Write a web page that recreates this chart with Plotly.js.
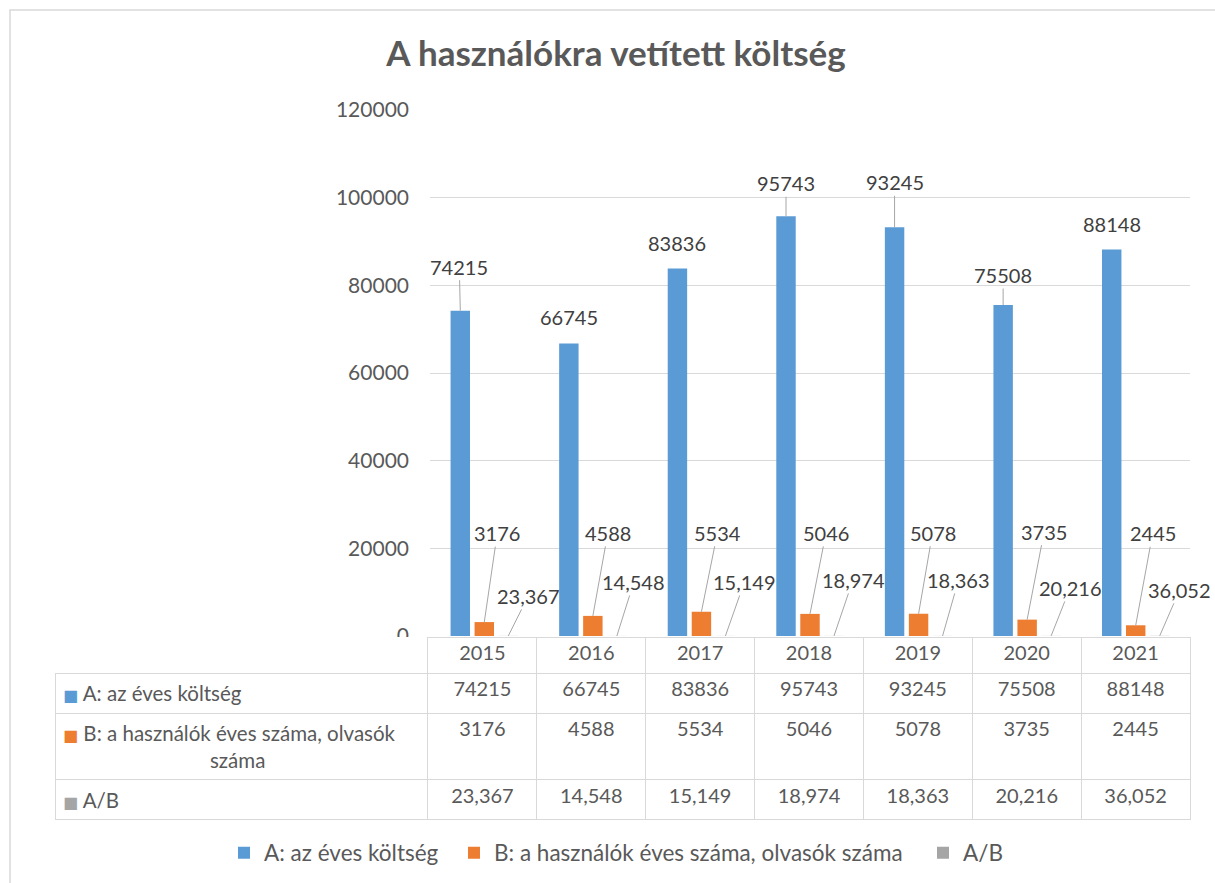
<!DOCTYPE html>
<html><head><meta charset="utf-8">
<script src="https://cdn.plot.ly/plotly-3.0.1.min.js"></script>
<style>html,body{margin:0;padding:0;background:#fff}#chart{width:1215px;height:883px}</style>
</head><body><div id="chart"></div>
<script>
// ---- data ----
const years = ['2015','2016','2017','2018','2019','2020','2021'];
const seriesNames = ['A: az éves költség','B: a használók éves száma, olvasók száma','A/B'];
const costA = [74215,66745,83836,95743,93245,75508,88148];
const usersB = [3176,4588,5534,5046,5078,3735,2445];
const ratioAB = [23.367,14.548,15.149,18.974,18.363,20.216,36.052];
const chartTitle = 'A használókra vetített költség';

// ---- style ----
const colors = ['#5B9BD5','#ED7D31','#A5A5A5'];
const FONT = 'Lato, Open Sans, sans-serif';
const W = 1215, H = 883;
const px = x => x / W, py = y => 1 - y / H;
const fmtRatio = v => v.toFixed(3).replace('.', ',');
const fmts = [v => String(v), v => String(v), fmtRatio];
const seriesVals = [costA, usersB, ratioAB];

// label offsets [ax, ay, leader]
const labelStyle = [
  {shift:-24, off:[[-1,-44,1],[0,-26,0],[0,-26,0],[0,-33,1],[0,-45,1],[0,-30,1],[0,-26,0]]},
  {shift:0,   off:[[13,-89,1],[15,-83,1],[16,-79,1],[16,-81,1],[14,-81,1],[17,-88,1],[17,-92,1]]},
  {shift:24,  off:[[20,-40,1],[17,-54,1],[19,-54,1],[19,-56,1],[16,-56,1],[19,-48,1],[20,-46,1]]}
];
const legendLeft = [224, 454, 923];
const legendIds = ['legend', 'legend2', 'legend3'];

const traces = seriesVals.map((vals, i) => ({
  type:'bar', x:years, y:vals, name:seriesNames[i], legend:legendIds[i],
  marker:{color:colors[i], line:{width:0}}, hoverinfo:'skip'
}));

const annotations = [];
seriesVals.forEach((vals, i) => {
  vals.forEach((v, j) => {
    const o = labelStyle[i].off[j];
    annotations.push({
      x: j, y: v, xref:'x', yref:'y', text: fmts[i](v),
      xshift: labelStyle[i].shift, showarrow:true, arrowhead:0, arrowwidth:1,
      arrowcolor: o[2] ? '#A6A6A6' : 'rgba(0,0,0,0)', standoff:0,
      ax:o[0], ay:o[1], font:{family:FONT, size:20, color:'#404040'}
    });
  });
});

// row labels of the data table (series names, the long one wrapped like the original)
const NB = '\u00A0';
const wrapLabel = n => {
  if (n.length < 30) return n + '<br>';           // trailing <br> keeps the table from re-wrapping markup
  const k = n.lastIndexOf(' ');
  return n.slice(0, k) + '<br>' + NB.repeat(28) + n.slice(k + 1);
};
const keySpan = c => `<span style="color:${c};font-family:DejaVu Sans;font-size:16px">■</span>`;
const labelCells = seriesNames.map((n, i) => keySpan(colors[i]) + NB + wrapLabel(n));
const colValues = [labelCells].concat(years.map((y, j) => [String(costA[j]), String(usersB[j]), fmtRatio(ratioAB[j])]));
const grid = '#D9D9D9';
const table = {
  type:'table',
  domain:{x:[px(55), px(1190)], y:[py(830), py(637)]},
  columnwidth:[373].concat(years.map(() => 108.86)),
  header:{
    values:[''].concat(years), height:36, align:'center',
    fill:{color:'#FFFFFF'},
    line:{color:['rgba(0,0,0,0)'].concat(years.map(() => grid)), width:1},
    font:{family:FONT, size:20, color:'#595959'}
  },
  cells:{
    values:colValues, height:38,
    align:['left'].concat(years.map(() => 'center')),
    fill:{color:'#FFFFFF'}, line:{color:grid, width:1},
    font:{family:FONT, size:[20.5].concat(years.map(() => 20)), color:'#595959'}
  }
};

const legendBase = {orientation:'h', xanchor:'left', y:py(853), yanchor:'middle',
  font:{family:FONT, size:22.5, color:'#595959'}, bgcolor:'rgba(0,0,0,0)', itemwidth:30};

const layout = {
  width:W, height:H, margin:{l:0, r:0, t:0, b:0},
  paper_bgcolor:'#FFFFFF', plot_bgcolor:'rgba(0,0,0,0)',
  font:{family:FONT, color:'#595959'},
  title:{text:chartTitle, x:px(616), xanchor:'center', y:py(54), yanchor:'middle',
         font:{family:FONT, size:35, weight:700, color:'#595959'}},
  xaxis:{type:'category', domain:[px(430), px(1190)], range:[-0.5, 6.5],
         showticklabels:false, showgrid:false, zeroline:false, showline:false, fixedrange:true},
  yaxis:{domain:[py(636), py(110)], range:[0, 120000], dtick:20000, tickformat:'d',
         gridcolor:grid, gridwidth:1, zeroline:false, showline:false, ticks:'',
         tickfont:{family:FONT, size:21, color:'#595959'}, ticklabelstandoff:20, fixedrange:true},
  barmode:'group', bargap:0.337, bargroupgap:0.19,
  showlegend:true,
  legend:Object.assign({x:px(legendLeft[0])}, legendBase),
  legend2:Object.assign({x:px(legendLeft[1])}, legendBase),
  legend3:Object.assign({x:px(legendLeft[2])}, legendBase),
  annotations:annotations,
  shapes:[{type:'path', xref:'paper', yref:'paper',
           path:`M ${px(10)} ${py(883)} L ${px(10)} ${py(10)} L ${px(1215)} ${py(10)}`,
           line:{color:grid, width:1.5}}]
};

Plotly.newPlot('chart', traces.concat([table]), layout, {displayModeBar:false, staticPlot:true});
</script></body></html>
